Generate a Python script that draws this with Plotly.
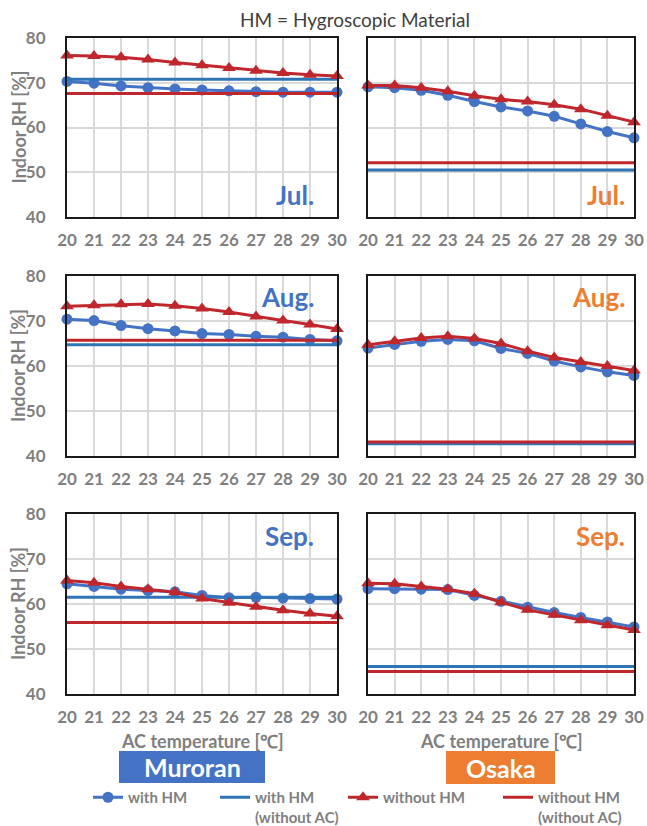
import plotly.graph_objects as go

# ---------------- data ----------------
ac_temp = [20, 21, 22, 23, 24, 25, 26, 27, 28, 29, 30]
x_ticks = ac_temp
y_ticks = [40, 50, 60, 70, 80]

# Muroran
mur_jul_hm = [70.3, 69.9, 69.3, 68.9, 68.6, 68.4, 68.2, 68.0, 67.9, 67.9, 67.9]
mur_jul_nohm = [76.1, 76.0, 75.7, 75.2, 74.5, 73.9, 73.3, 72.7, 72.2, 71.8, 71.5]
mur_jul_hm_noac = 70.8
mur_jul_nohm_noac = 67.6

mur_aug_hm = [70.4, 70.1, 69.0, 68.3, 67.8, 67.2, 67.0, 66.6, 66.4, 65.9, 65.6]
mur_aug_nohm = [73.3, 73.5, 73.7, 73.8, 73.4, 72.8, 72.0, 71.0, 70.1, 69.2, 68.2]
mur_aug_hm_noac = 64.7
mur_aug_nohm_noac = 65.7

mur_sep_hm = [64.5, 63.9, 63.3, 63.0, 62.7, 61.9, 61.4, 61.5, 61.3, 61.2, 61.1]
mur_sep_nohm = [65.2, 64.7, 63.9, 63.3, 62.6, 61.2, 60.3, 59.4, 58.6, 57.9, 57.3]
mur_sep_hm_noac = 61.5
mur_sep_nohm_noac = 55.9

# Osaka
osa_jul_hm = [69.1, 68.9, 68.3, 67.2, 65.8, 64.6, 63.7, 62.5, 60.8, 59.1, 57.7]
osa_jul_nohm = [69.4, 69.4, 68.9, 68.1, 67.1, 66.3, 65.8, 65.1, 64.1, 62.6, 61.2]
osa_jul_hm_noac = 50.5
osa_jul_nohm_noac = 52.1

osa_aug_hm = [64.0, 64.8, 65.5, 65.9, 65.6, 63.9, 62.8, 61.1, 59.8, 58.7, 57.9]
osa_aug_nohm = [64.7, 65.5, 66.2, 66.6, 66.1, 65.0, 63.3, 61.9, 60.9, 60.0, 59.0]
osa_aug_hm_noac = 42.7
osa_aug_nohm_noac = 43.1

osa_sep_hm = [63.4, 63.4, 63.3, 63.2, 61.9, 60.6, 59.3, 58.1, 57.0, 56.0, 54.9]
osa_sep_nohm = [64.6, 64.5, 63.9, 63.3, 62.3, 60.4, 58.7, 57.6, 56.4, 55.3, 54.2]
osa_sep_hm_noac = 46.1
osa_sep_nohm_noac = 45.0

series_names = ["with HM", "with HM<br>(without AC)", "without HM", "without HM<br>(without AC)"]
months = ["Jul.", "Aug.", "Sep."]
cities = ["Muroran", "Osaka"]

panels = [
    # (row, col, hm, hm_noac, nohm, nohm_noac)
    (0, 0, mur_jul_hm, mur_jul_hm_noac, mur_jul_nohm, mur_jul_nohm_noac),
    (0, 1, osa_jul_hm, osa_jul_hm_noac, osa_jul_nohm, osa_jul_nohm_noac),
    (1, 0, mur_aug_hm, mur_aug_hm_noac, mur_aug_nohm, mur_aug_nohm_noac),
    (1, 1, osa_aug_hm, osa_aug_hm_noac, osa_aug_nohm, osa_aug_nohm_noac),
    (2, 0, mur_sep_hm, mur_sep_hm_noac, mur_sep_nohm, mur_sep_nohm_noac),
    (2, 1, osa_sep_hm, osa_sep_hm_noac, osa_sep_nohm, osa_sep_nohm_noac),
]

# ---------------- layout geometry ----------------
W, H = 647, 826
col_px = [(67, 337), (368, 634)]
row_px = [(38, 217), (276, 456), (514, 694)]
month_right_px = [316, 627]
month_mid_px = [195, 297, 536]
legend_entry_px = [82, 83, 110, 100]

BLUE = "#4472C4"
BLUE2 = "#2E75B6"
RED = "#C0272D"
ORANGE = "#ED7D31"
GRAY = "#7F7F7F"
FONT = "Lato"

fig = go.Figure()
layout = dict()
annotations = []
shapes = []

for i, (r, c, hm, hm_noac, nohm, nohm_noac) in enumerate(panels):
    ax = "" if i == 0 else str(i + 1)
    xa, ya = "x" + ax, "y" + ax
    show = (i == 0)
    fig.add_trace(go.Scatter(x=ac_temp, y=hm, mode="lines+markers", name=series_names[0],
                             line=dict(color=BLUE, width=3), marker=dict(symbol="circle", size=11, color=BLUE),
                             xaxis=xa, yaxis=ya, showlegend=show, cliponaxis=False, legendrank=1,
                             legendwidth=legend_entry_px[0]))
    fig.add_trace(go.Scatter(x=[ac_temp[0], ac_temp[-1]], y=[hm_noac, hm_noac], mode="lines", name=series_names[1],
                             line=dict(color=BLUE2, width=3), xaxis=xa, yaxis=ya, showlegend=show, legendrank=2,
                             legendwidth=legend_entry_px[1]))
    fig.add_trace(go.Scatter(x=ac_temp, y=nohm, mode="lines+markers", name=series_names[2],
                             line=dict(color=RED, width=3), marker=dict(symbol="triangle-up", size=12, color=RED),
                             xaxis=xa, yaxis=ya, showlegend=show, cliponaxis=False, legendrank=3,
                             legendwidth=legend_entry_px[2]))
    fig.add_trace(go.Scatter(x=[ac_temp[0], ac_temp[-1]], y=[nohm_noac, nohm_noac], mode="lines", name=series_names[3],
                             line=dict(color=RED, width=3), xaxis=xa, yaxis=ya, showlegend=show, legendrank=4,
                             legendwidth=legend_entry_px[3]))

    x0, x1 = col_px[c]
    y0, y1 = row_px[r]
    key = "" if i == 0 else str(i + 1)
    layout["xaxis" + key] = dict(
        domain=[x0 / W, x1 / W], anchor=ya, range=[20, 30], tickmode="array", tickvals=x_ticks,
        showgrid=True, gridcolor="#D9D9D9", gridwidth=1.5, zeroline=False,
        showline=True, linecolor="#1a1a1a", linewidth=2, mirror=True,
        ticks="", ticklabelstandoff=7, automargin=False,
        tickfont=dict(family=FONT, size=17, color=GRAY, weight="bold"))
    layout["yaxis" + key] = dict(
        domain=[1 - y1 / H, 1 - y0 / H], anchor=xa, range=[40, 80], tickmode="array", tickvals=y_ticks,
        showgrid=True, gridcolor="#D9D9D9", gridwidth=1.5, zeroline=False,
        showline=True, linecolor="#1a1a1a", linewidth=2, mirror=True,
        ticks="", ticklabelstandoff=16, showticklabels=(c == 0), automargin=False,
        tickfont=dict(family=FONT, size=17, color=GRAY, weight="bold"))

    # month label
    mcol = BLUE if c == 0 else ORANGE
    annotations.append(dict(text="<b>%s</b>" % months[r], x=month_right_px[c] / W, y=1 - month_mid_px[r] / H,
                            xref="paper", yref="paper",
                            xanchor="right", yanchor="middle", showarrow=False,
                            font=dict(family=FONT, size=26, color=mcol)))

    if c == 0:
        annotations.append(dict(text="<b>Indoor RH [%]</b>", x=18 / W, y=1 - ((y0 + y1) / 2) / H,
                                xref="paper", yref="paper", textangle=-90, showarrow=False,
                                xanchor="center", yanchor="middle",
                                font=dict(family=FONT, size=18, color=GRAY)))

# x axis titles
for c in range(2):
    x0, x1 = col_px[c]
    annotations.append(dict(text="<b>AC temperature [℃]</b>", x=((x0 + x1) / 2) / W, y=1 - 741 / H,
                            xref="paper", yref="paper", showarrow=False, xanchor="center", yanchor="middle",
                            font=dict(family=FONT, size=18, color=GRAY)))

# city boxes
city_boxes = [(119, 265, 751, 783, BLUE), (446, 555, 751, 784, ORANGE)]
for (bx0, bx1, by0, by1, colr), name in zip(city_boxes, cities):
    shapes.append(dict(type="rect", xref="paper", yref="paper", x0=bx0 / W, x1=bx1 / W,
                       y0=1 - by1 / H, y1=1 - by0 / H, fillcolor=colr, line=dict(width=0)))
    annotations.append(dict(text="<b>%s</b>" % name, x=((bx0 + bx1) / 2) / W, y=1 - ((by0 + by1) / 2) / H,
                            xref="paper", yref="paper", showarrow=False, xanchor="center", yanchor="middle",
                            font=dict(family=FONT, size=25, color="white")))

# title
annotations.append(dict(text="HM = Hygroscopic Material", x=355 / W, y=1 - 19 / H, xref="paper", yref="paper",
                        showarrow=False, xanchor="center", yanchor="middle",
                        font=dict(family=FONT, size=19, color="#404040")))

fig.update_layout(
    width=W, height=H, margin=dict(l=0, r=0, t=0, b=0, autoexpand=False),
    paper_bgcolor="white", plot_bgcolor="white",
    showlegend=True,
    legend=dict(orientation="h", x=88 / W, xanchor="left", y=1 - 781 / H, yanchor="top",
                font=dict(family=FONT, size=15, color=GRAY, weight="bold"), valign="top",
                tracegroupgap=0, itemwidth=30, bgcolor="rgba(0,0,0,0)"),
    annotations=annotations, shapes=shapes,
    **layout,
)

fig.write_html("out.html")
